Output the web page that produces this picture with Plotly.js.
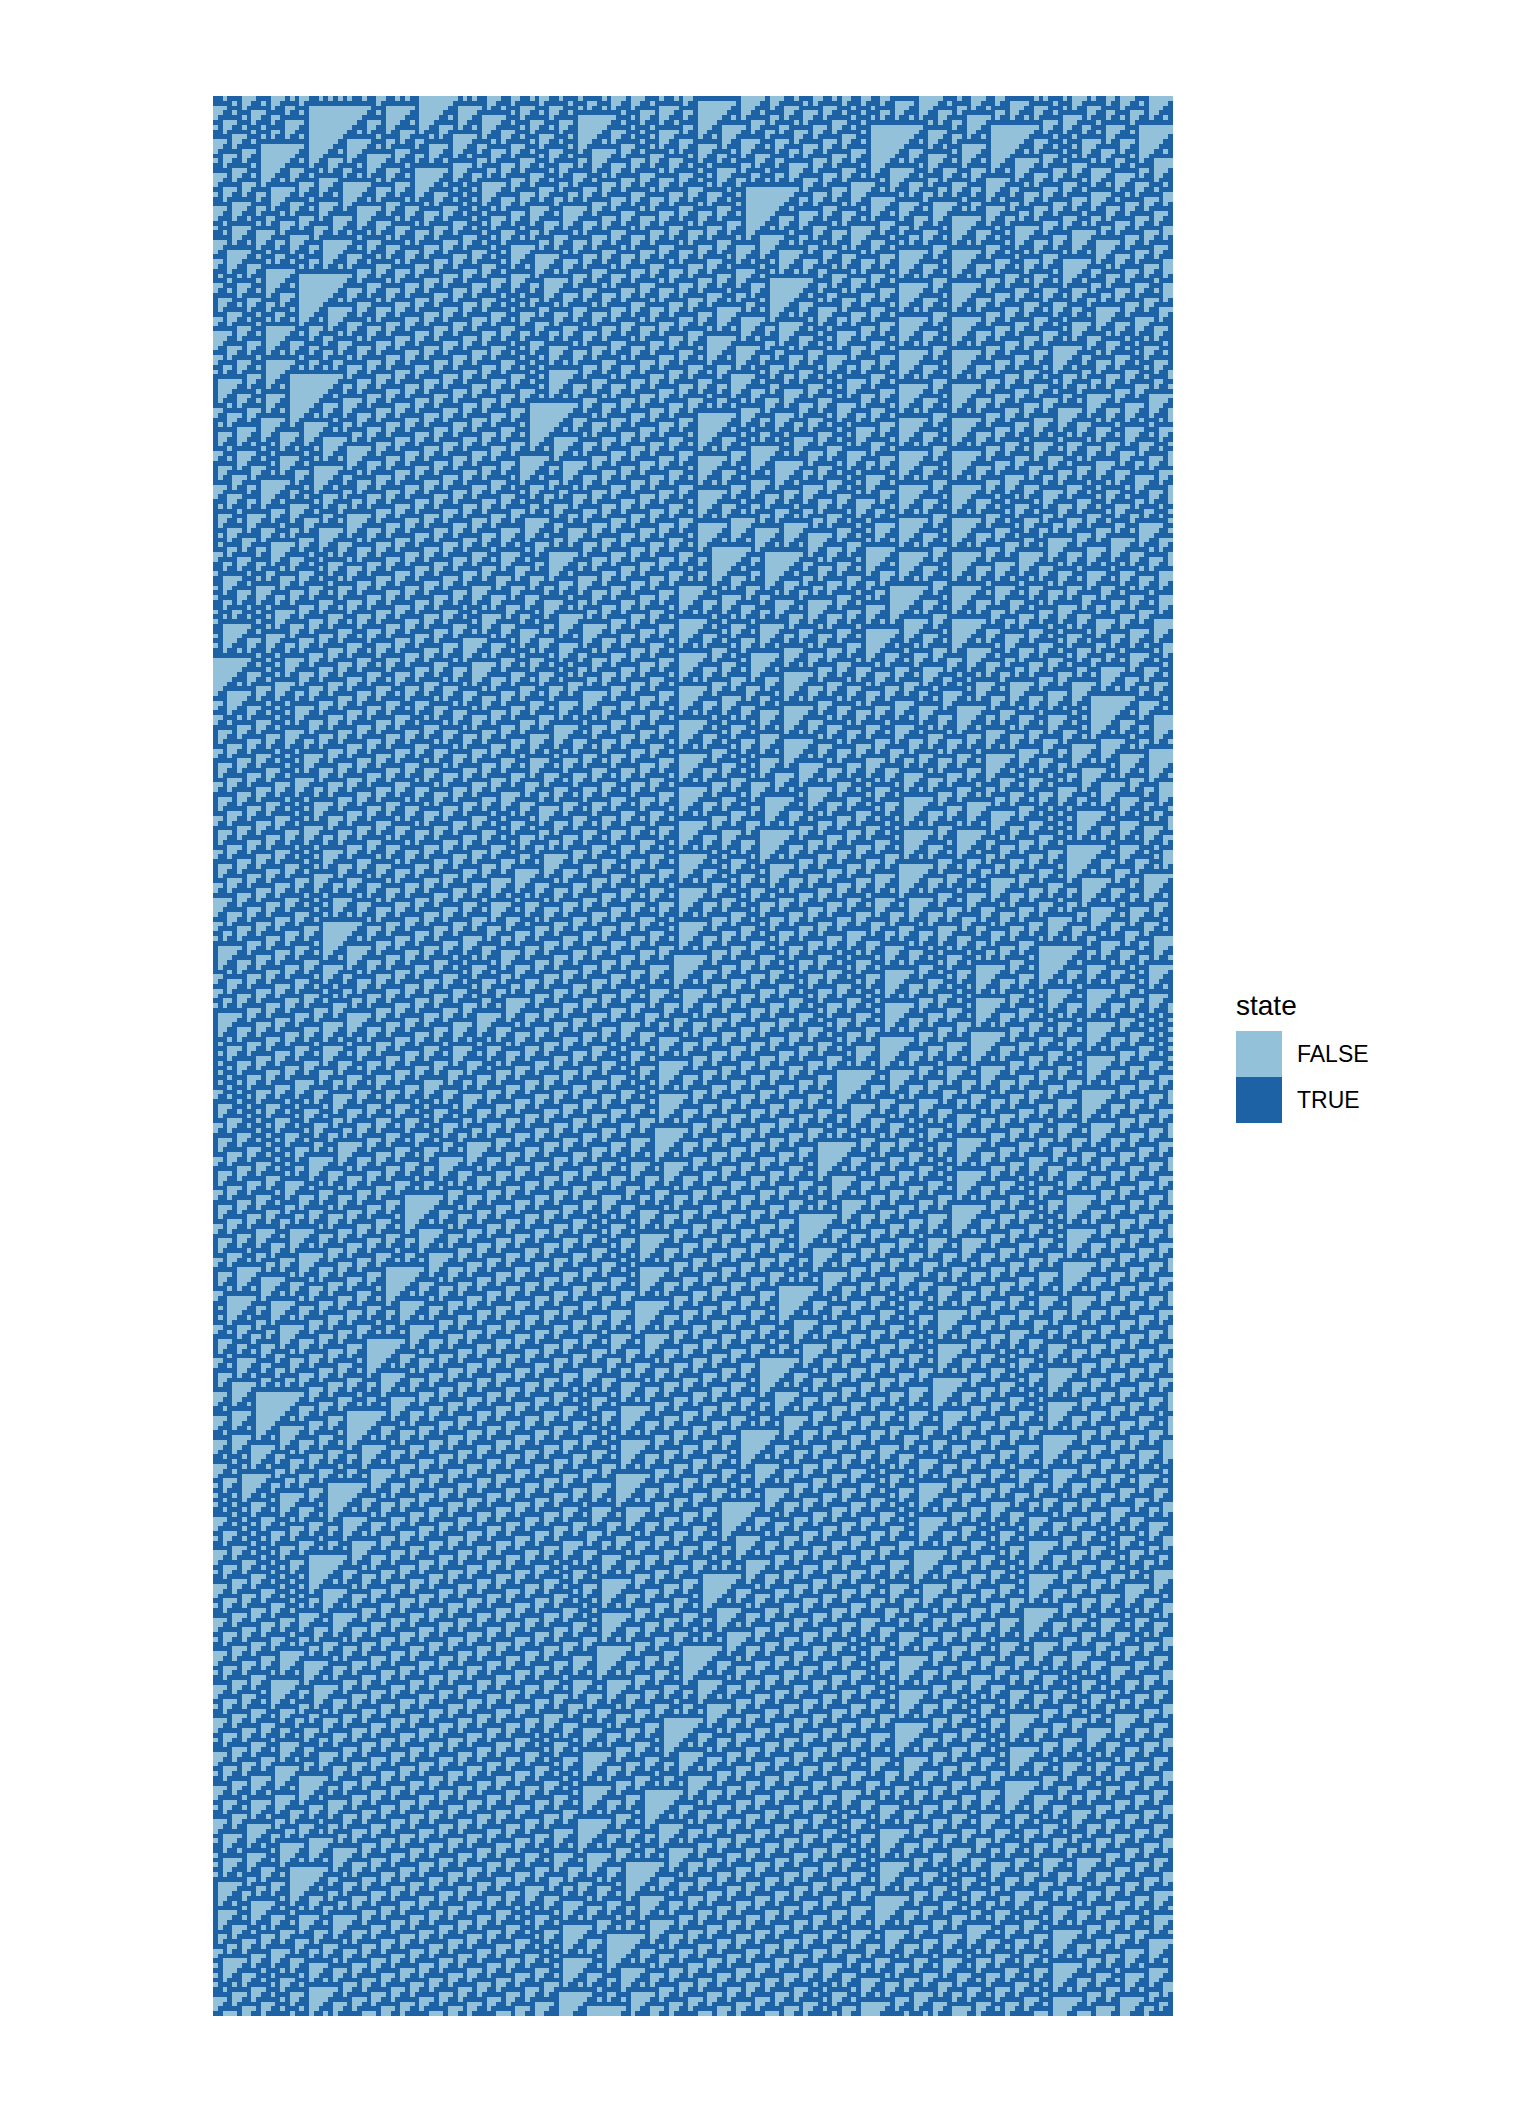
<!DOCTYPE html>
<html>
<head>
<meta charset="utf-8">
<script src="https://cdn.plot.ly/plotly-3.0.1.min.js"></script>
<style>
  html, body { margin: 0; padding: 0; background: #ffffff; }
  #plot { width: 1536px; height: 2112px; }
</style>
</head>
<body>
<div id="plot"></div>
<script>
"use strict";

// Elementary cellular automaton, one row per time step (top = step 0).
// Only the first row is read off the picture; every later row follows
// from it through the rule, with the ends wrapping round.
const ruleNumber = 110;
const nSteps = 400;
const stateLabels = ["FALSE", "TRUE"];
const stateColors = ["#93C1DA", "#1D62A5"];

// first row, 200 cells, 1 = TRUE (dark), 0 = FALSE (light)
const initialRow = [
    "110111000111000101001",               // cols 0-20
    "101010101101",                        // cols 21-32
    "1001101011",                          // cols 33-42
    "00000000",                            // cols 43-50
    "101011000110011",                     // cols 51-65
    "01001101110111101000100011101101001", // cols 66-100
    "11111111100000100011011100110100110", // cols 101-135
    "01100111111000001110110001100111",    // cols 136-167
    "11101011101000101100100011100000"     // cols 168-199
].join("");

function evolve(first, rule, steps) {
    const n = first.length;
    let row = Array.from(first, ch => ch === "1" ? 1 : 0);
    const rows = [row];
    for (let t = 1; t < steps; t++) {
        const next = new Array(n);
        for (let i = 0; i < n; i++) {
            const l = row[(i - 1 + n) % n], c = row[i], r = row[(i + 1) % n];
            next[i] = (rule >> (l * 4 + c * 2 + r)) & 1;
        }
        rows.push(next);
        row = next;
    }
    return rows;
}

const grid = evolve(initialRow, ruleNumber, nSteps);
const nCols = grid[0].length;

// plot box in pixels (page is 1536 x 2112)
const W = 1536, H = 2112;
const box = { l: 213, r: 1173, t: 96, b: 2016 };
const px = x => (x - box.l) / (box.r - box.l);
const py = y => 1 - (y - box.t) / (box.b - box.t);

const traces = [{
    type: "heatmap",
    z: grid,
    x: grid[0].map((_, i) => i),
    y: grid.map((_, j) => j),
    zmin: 0, zmax: 1,
    colorscale: [[0, stateColors[0]], [0.5, stateColors[0]],
                 [0.5, stateColors[1]], [1, stateColors[1]]],
    showscale: false,
    hoverinfo: "skip",
    xgap: 0, ygap: 0,
}];

// ggplot-style legend drawn by hand: title, two stacked keys, labels
const keyX0 = 1236, keyX1 = 1282, keyTop = 1031, keyH = 46;
const shapes = stateLabels.map((lab, k) => ({
    type: "rect", xref: "paper", yref: "paper",
    x0: px(keyX0), x1: px(keyX1),
    y0: py(keyTop + keyH * (k + 1)), y1: py(keyTop + keyH * k),
    fillcolor: stateColors[k], line: { width: 0 },
}));
const font = "Liberation Sans, Arial, sans-serif";
const annotations = [{
    xref: "paper", yref: "paper", x: px(keyX0 - 2), y: py(1006),
    xanchor: "left", yanchor: "middle", showarrow: false,
    text: "state", font: { family: font, size: 28, color: "#000000" },
}].concat(stateLabels.map((lab, k) => ({
    xref: "paper", yref: "paper",
    x: px(1295), y: py(keyTop + keyH * k + keyH / 2),
    xanchor: "left", yanchor: "middle", showarrow: false,
    text: lab, font: { family: font, size: 23, color: "#000000" },
})));

const layout = {
    width: W, height: H,
    margin: { l: box.l, r: W - box.r, t: box.t, b: H - box.b, pad: 0 },
    paper_bgcolor: "#ffffff", plot_bgcolor: "#ffffff",
    xaxis: { visible: false, range: [-0.5, nCols - 0.5], fixedrange: true },
    yaxis: { visible: false, range: [nSteps - 0.5, -0.5], fixedrange: true },
    showlegend: false,
    shapes: shapes,
    annotations: annotations,
};

Plotly.newPlot("plot", traces, layout, { displayModeBar: false, staticPlot: true });
</script>
</body>
</html>
